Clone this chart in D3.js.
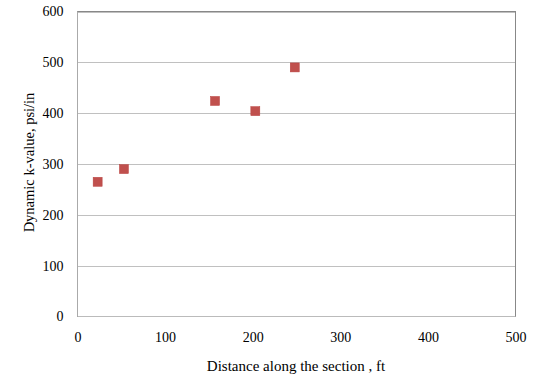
<!DOCTYPE html>
<html><head><meta charset="utf-8">
<script src="https://cdn.jsdelivr.net/npm/d3@7"></script>
<style>body{margin:0;background:#fff}svg text{font-family:"Liberation Serif","Times New Roman","DejaVu Serif",serif !important;}</style>
</head><body>
<svg id="c" width="540" height="382"></svg>
<script>
const distances = [23, 53, 157, 203, 248];
const kValues = [265, 290, 424, 404, 490];
const xTicks = [0, 100, 200, 300, 400, 500];
const yTicks = [0, 100, 200, 300, 400, 500, 600];

const FONT = '"Liberation Serif", "Times New Roman", serif';
const svg = d3.select("#c");
const L = 77.5, R = 515.5, T = 11.5, B = 316.5;
const x = d3.scaleLinear().domain([0, 500]).range([L, R]);
const y = d3.scaleLinear().domain([0, 600]).range([B, T]);

// gridlines
svg.append("g").selectAll("line").data(yTicks.filter(d => d > 0)).join("line")
  .attr("x1", L).attr("x2", R).attr("y1", d => Math.round(y(d)) + 0.5).attr("y2", d => Math.round(y(d)) + 0.5)
  .attr("stroke", "#c0c0c0").attr("stroke-width", 1);
// border
svg.append("rect").attr("x", L).attr("y", T).attr("width", R - L).attr("height", B - T)
  .attr("fill", "none").attr("stroke", "#888").attr("stroke-width", 1);
svg.append("line").attr("x1", L).attr("x2", R).attr("y1", B).attr("y2", B).attr("stroke", "#bbb");
svg.append("line").attr("x1", L).attr("x2", L).attr("y1", T).attr("y2", B).attr("stroke", "#aaa");

const yAxis = d3.axisLeft(y).tickValues(yTicks).tickSize(0).tickPadding(14);
const gy = svg.append("g").attr("transform", `translate(${L},0)`).call(yAxis).attr("font-family", FONT).attr("font-size", 14);
gy.select(".domain").remove();
gy.selectAll("text").attr("fill", "#000");

const xAxis = d3.axisBottom(x).tickValues(xTicks).tickSize(0).tickPadding(16);
const gx = svg.append("g").attr("transform", `translate(0,${B})`).call(xAxis).attr("font-family", FONT).attr("font-size", 14);
gx.select(".domain").remove();
gx.selectAll("text").attr("fill", "#000");

const s = 9;
svg.append("g").selectAll("rect").data(distances.map((d, i) => [d, kValues[i]])).join("rect")
  .attr("x", d => x(d[0]) - s / 2).attr("y", d => y(d[1]) - s / 2)
  .attr("width", s).attr("height", s)
  .attr("fill", "#C0504D").attr("stroke", "#b9413e").attr("stroke-width", 0.5);

svg.append("text").attr("x", 296).attr("y", 371).attr("text-anchor", "middle")
  .attr("font-family", FONT).attr("font-size", 15).text("Distance along the section , ft");
svg.append("text").attr("transform", `translate(34,162.5) rotate(-90)`).attr("text-anchor", "middle")
  .attr("font-family", FONT).attr("font-size", 14.5).text("Dynamic k-value, psi/in");
</script>
</body></html>
